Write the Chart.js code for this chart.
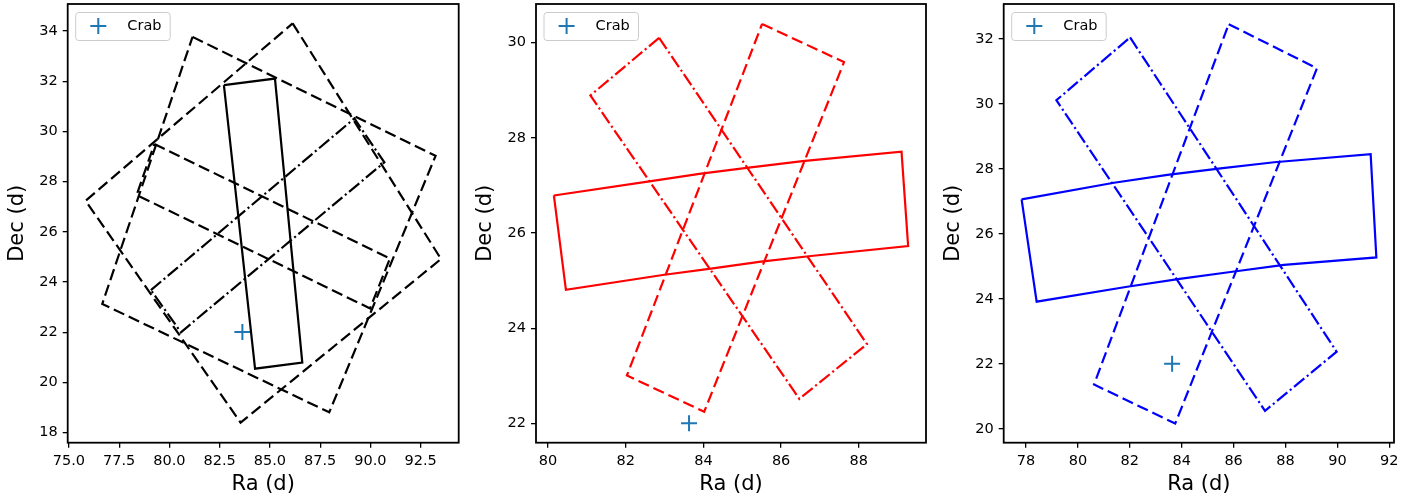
<!DOCTYPE html>
<html>
<head>
<meta charset="utf-8">
<script src="https://cdn.jsdelivr.net/npm/chart.js@4.4.0/dist/chart.umd.min.js"></script>
<style>
  html, body { margin: 0; padding: 0; background: #fff; }
  #wrap { position: relative; width: 1424px; height: 502px; }
  canvas { position: absolute; top: 0; }
</style>
</head>
<body>
<div id="wrap">
  <canvas id="c1" width="470" height="502" style="left:0"></canvas>
  <canvas id="c2" width="470" height="502" style="left:470px"></canvas>
  <canvas id="c3" width="484" height="502" style="left:940px"></canvas>
</div>
<script>
// Crab position
const crabRa = 83.63;
const crabDec = 22.01;

// Panel 1 (black)
const p1SolidRa = [82.71, 85.25, 86.61, 84.26, 82.71];
const p1SolidDec = [31.85, 32.11, 20.79, 20.55, 31.85];
const p1DashRa = [79.25, 90.97, 89.98, 78.37, 79.25];
const p1DashDec = [29.50, 24.94, 22.95, 27.47, 29.50];
const p1DotRa = [79.08, 89.20, 90.69, 80.57, 79.08];
const p1DotDec = [23.68, 30.52, 28.77, 22.00, 23.68];
const p1SqARa = [81.15, 93.24, 87.95, 76.66, 81.15];
const p1SqADec = [33.77, 29.03, 18.81, 23.13, 33.77];
const p1SqBRa = [86.13, 93.51, 83.54, 75.83, 86.13];
const p1SqBDec = [34.31, 24.92, 18.40, 27.24, 34.31];
const p1XTicks = [75, 77.5, 80, 82.5, 85, 87.5, 90, 92.5];
const p1YTicks = [18, 20, 22, 24, 26, 28, 30, 32, 34];

// Panel 2 (red)
const p2SolidRa = [80.15, 82.65, 83.94, 85.22, 86.55, 89.10, 89.27, 86.77, 85.48, 84.24, 82.95, 80.46, 80.15];
const p2SolidDec = [26.79, 27.09, 27.25, 27.38, 27.51, 27.71, 25.73, 25.52, 25.40, 25.26, 25.12, 24.81, 26.79];
const p2DashRa = [85.51, 87.62, 84.02, 82.03, 85.51];
const p2DashDec = [30.39, 29.59, 22.25, 23.01, 30.39];
const p2DotRa = [82.86, 88.21, 86.47, 81.09, 82.86];
const p2DotDec = [30.10, 23.67, 22.52, 28.89, 30.10];
const p2XTicks = [80, 82, 84, 86, 88];
const p2YTicks = [22, 24, 26, 28, 30];

// Panel 3 (blue)
const p3SolidRa = [77.83, 81.39, 83.45, 85.50, 87.56, 91.28, 91.50, 87.94, 85.95, 83.92, 81.90, 78.41, 77.83];
const p3SolidDec = [27.07, 27.58, 27.82, 28.02, 28.21, 28.46, 25.28, 25.05, 24.84, 24.62, 24.38, 23.92, 27.07];
const p3DashRa = [85.81, 89.21, 83.75, 80.62, 85.81];
const p3DashDec = [32.46, 31.10, 20.17, 21.37, 32.46];
const p3DotRa = [82.01, 89.97, 87.21, 79.17, 82.01];
const p3DotDec = [32.05, 22.38, 20.56, 30.12, 32.05];
const p3XTicks = [78, 80, 82, 84, 86, 88, 90, 92];
const p3YTicks = [20, 22, 24, 26, 28, 30, 32];

const FONT = "'DejaVu Sans', sans-serif";
const DASH = [11.5, 5];
const DASHDOT = [13.3, 3.3, 2.1, 3.3];

function poly(ra, dec) {
  return ra.map((r, i) => ({ x: r, y: dec[i] }));
}

function outline(ra, dec, color, dash) {
  return {
    data: poly(ra, dec),
    showLine: true,
    pointRadius: 0,
    borderColor: color,
    borderWidth: 2.2,
    borderDash: dash,
    fill: false,
    tension: 0
  };
}

function crab() {
  return {
    label: 'Crab',
    data: [{ x: crabRa, y: crabDec }],
    showLine: false,
    pointStyle: 'cross',
    pointRadius: 8,
    pointHoverRadius: 8,
    borderColor: '#1f77b4',
    backgroundColor: '#1f77b4',
    borderWidth: 2
  };
}

// frame around the axes and the matplotlib-like legend box
const framePlugin = {
  id: 'frame',
  afterDraw(chart) {
    const { ctx, chartArea: a } = chart;
    ctx.save();
    const ds = chart.data.datasets.find(d => d.label);
    const bx = a.left + 8, by = a.top + 8.5, bw = 94.5, bh = 28;
    ctx.beginPath();
    ctx.roundRect(bx, by, bw, bh, 3);
    ctx.fillStyle = 'rgba(255,255,255,0.8)';
    ctx.fill();
    ctx.strokeStyle = '#cccccc';
    ctx.lineWidth = 1;
    ctx.stroke();
    // marker
    const mx = a.left + 30.6, my = a.top + 22;
    ctx.strokeStyle = ds.borderColor;
    ctx.lineWidth = 2;
    ctx.beginPath();
    ctx.moveTo(mx - 8, my); ctx.lineTo(mx + 8, my);
    ctx.moveTo(mx, my - 8); ctx.lineTo(mx, my + 8);
    ctx.stroke();
    ctx.fillStyle = '#000';
    ctx.font = '14.5px ' + FONT;
    ctx.textBaseline = 'middle';
    ctx.textAlign = 'left';
    ctx.fillText(ds.label, a.left + 59.6, a.top + 22);
    // axes frame
    ctx.strokeStyle = '#000';
    ctx.lineWidth = 1.8;
    ctx.strokeRect(a.left, a.top, a.right - a.left, a.bottom - a.top);
    ctx.restore();
  }
};

function makeChart(id, datasets, opt) {
  const axisTitle = (text, pad) => ({
    display: true,
    text: text,
    color: '#000',
    font: { family: FONT, size: 21, lineHeight: 1.2 },
    padding: pad
  });
  const tickFont = { family: FONT, size: 14.5 };
  const grid = { display: true, drawOnChartArea: false, drawTicks: true, tickLength: 5, color: '#000', lineWidth: 1.3 };
  return new Chart(document.getElementById(id), {
    type: 'scatter',
    data: { datasets: datasets },
    options: {
      responsive: false,
      animation: false,
      events: [],
      layout: { autoPadding: false, padding: { top: 4, right: opt.right, left: 0, bottom: 0 } },
      plugins: { legend: { display: false }, tooltip: { enabled: false } },
      scales: {
        x: {
          type: 'linear',
          min: opt.xMin, max: opt.xMax,
          grid: grid,
          border: { display: false },
          afterBuildTicks: s => { s.ticks = opt.xTicks.map(v => ({ value: v })); },
          afterFit: s => { s.height = 59.3; s.paddingLeft = 0; s.paddingRight = 0; },
          ticks: {
            color: '#000', font: tickFont, padding: 5, maxRotation: 0, autoSkip: false,
            callback: v => opt.xFmt(v)
          },
          title: axisTitle('Ra (d)', { top: 0, bottom: 4.4 })
        },
        y: {
          type: 'linear',
          min: opt.yMin, max: opt.yMax,
          grid: grid,
          border: { display: false },
          afterBuildTicks: s => { s.ticks = opt.yTicks.map(v => ({ value: v })); },
          afterFit: s => { s.width = opt.yWidth; s.paddingTop = 0; s.paddingBottom = 0; },
          ticks: {
            color: '#000', font: tickFont, padding: 5, autoSkip: false,
            callback: v => String(v)
          },
          title: axisTitle('Dec (d)', { top: opt.titlePad, bottom: 0 })
        }
      }
    },
    plugins: [framePlugin]
  });
}

makeChart('c1', [
  outline(p1SolidRa, p1SolidDec, '#000000', []),
  outline(p1DashRa, p1DashDec, '#000000', DASH),
  outline(p1DotRa, p1DotDec, '#000000', DASHDOT),
  outline(p1SqARa, p1SqADec, '#000000', DASH),
  outline(p1SqBRa, p1SqBDec, '#000000', DASH),
  crab()
], {
  xMin: 74.94, xMax: 94.39, yMin: 17.6, yMax: 35.08,
  xTicks: p1XTicks, yTicks: p1YTicks, xFmt: v => v.toFixed(1),
  yWidth: 67.7, right: 11.3, titlePad: 5.4
});

makeChart('c2', [
  outline(p2SolidRa, p2SolidDec, '#ff0000', []),
  outline(p2DashRa, p2DashDec, '#ff0000', DASH),
  outline(p2DotRa, p2DotDec, '#ff0000', DASHDOT),
  crab()
], {
  xMin: 79.69, xMax: 89.73, yMin: 21.6, yMax: 30.81,
  xTicks: p2XTicks, yTicks: p2YTicks, xFmt: v => String(v),
  yWidth: 66, right: 14, titlePad: 3.4
});

makeChart('c3', [
  outline(p3SolidRa, p3SolidDec, '#0000ff', []),
  outline(p3DashRa, p3DashDec, '#0000ff', DASH),
  outline(p3DotRa, p3DotDec, '#0000ff', DASHDOT),
  crab()
], {
  xMin: 77.14, xMax: 92.18, yMin: 19.58, yMax: 33.08,
  xTicks: p3XTicks, yTicks: p3YTicks, xFmt: v => String(v),
  yWidth: 63.7, right: 30, titlePad: 1.4
});
</script>
</body>
</html>
